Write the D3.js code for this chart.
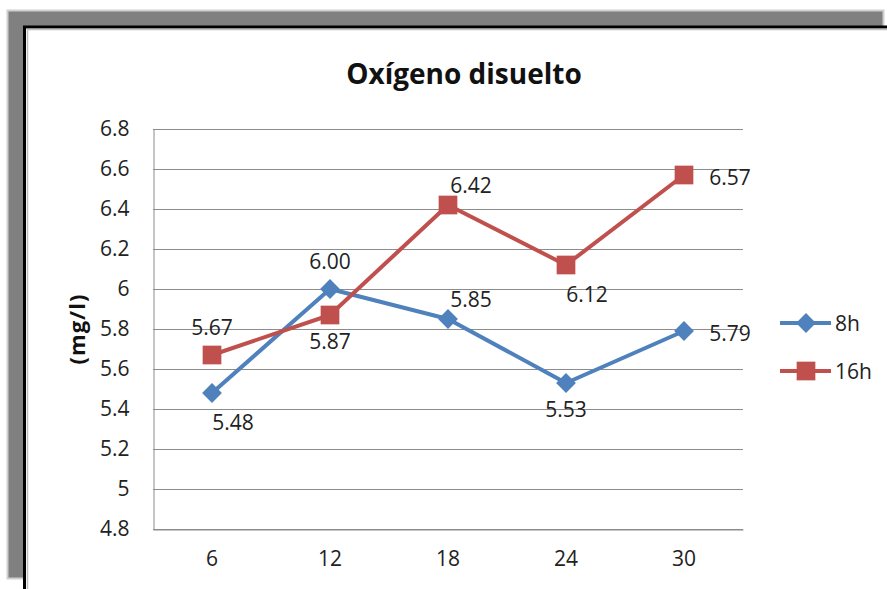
<!DOCTYPE html>
<html>
<head>
<meta charset="utf-8">
<script src="https://cdn.jsdelivr.net/npm/d3@7"></script>
<style>
  html, body { margin: 0; padding: 0; background: #fff; }
  svg { display: block; font-family: "Open Sans", sans-serif; }
</style>
</head>
<body>
<div id="chart"></div>
<script>
// data
const hours = ["6", "12", "18", "24", "30"];
const series8h = [5.48, 6.00, 5.85, 5.53, 5.79];
const series16h = [5.67, 5.87, 6.42, 6.12, 6.57];
const yTicks = [4.8, 5, 5.2, 5.4, 5.6, 5.8, 6, 6.2, 6.4, 6.6, 6.8];
const seriesNames = ["8h", "16h"];
// where each data label sits relative to its point
const labelSide8h = ["belowRight", "above", "aboveRight", "below", "right"];
const labelSide16h = ["above", "below", "aboveRight", "belowRight", "right"];

const width = 887, height = 589;
const blue = "#4f81bd", red = "#c0504d";

const svg = d3.select("#chart").append("svg")
    .attr("width", width)
    .attr("height", height);

// window frame around the chart
svg.append("rect")
    .attr("x", 7.5).attr("y", 10.5)
    .attr("width", 876).attr("height", 568)
    .attr("fill", "#808080")
    .attr("stroke", "#cfcfcf")
    .attr("stroke-width", 2);
svg.append("rect")
    .attr("x", 24.5).attr("y", 27)
    .attr("width", 900).attr("height", 600)
    .attr("fill", "#fff")
    .attr("stroke", "#000")
    .attr("stroke-width", 3);
svg.append("path")
    .attr("d", "M27.5,600V29.5H900")
    .attr("fill", "none")
    .attr("stroke", "#c0c0c0")
    .attr("stroke-width", 1.5);

const plot = { left: 153, right: 743, top: 129, bottom: 529 };

const x = d3.scaleBand()
    .domain(hours)
    .range([plot.left, plot.right]);

const y = d3.scaleLinear()
    .domain([4.8, 6.8])
    .range([plot.bottom, plot.top]);

const cx = d => x(d) + x.bandwidth() / 2;

// gridlines
svg.append("g")
    .selectAll("line")
    .data(yTicks)
    .join("line")
    .attr("x1", plot.left).attr("x2", plot.right)
    .attr("y1", d => Math.round(y(d)) + 0.5)
    .attr("y2", d => Math.round(y(d)) + 0.5)
    .attr("stroke", "#8c8c8c")
    .attr("stroke-width", 1);

// y axis
const yAxis = svg.append("g")
    .attr("transform", `translate(${plot.left + 0.5},0)`)
    .call(d3.axisLeft(y).tickValues(yTicks).tickSize(0).tickPadding(24)
        .tickFormat(d3.format("")));
yAxis.select(".domain").attr("stroke", "#8c8c8c");
yAxis.selectAll("text")
    .attr("font-size", 21)
    .attr("font-family", "Open Sans, sans-serif")
    .attr("fill", "#222");

// x axis
const xAxis = svg.append("g")
    .attr("transform", `translate(0,${plot.bottom + 0.5})`)
    .call(d3.axisBottom(x).tickSize(0).tickPadding(22));
xAxis.select(".domain").attr("stroke", "#8c8c8c");
xAxis.selectAll("text")
    .attr("font-size", 21)
    .attr("font-family", "Open Sans, sans-serif")
    .attr("fill", "#222");

// title
svg.append("text")
    .attr("x", 464).attr("y", 84)
    .attr("text-anchor", "middle")
    .attr("font-size", 28)
    .attr("font-weight", "bold")
    .attr("fill", "#111")
    .text("Oxígeno disuelto");

// y axis title
svg.append("text")
    .attr("transform", "translate(85,329) rotate(-90)")
    .attr("text-anchor", "middle")
    .attr("font-size", 22)
    .attr("font-weight", "bold")
    .attr("letter-spacing", 1)
    .attr("fill", "#111")
    .text("(mg/l)");

const line = d3.line()
    .x((d, i) => cx(hours[i]))
    .y(d => y(d));

const labelOffset = {
    above: [0, -20],
    below: [0, 34],
    belowRight: [21, 37],
    aboveRight: [23, -12],
    right: [46, 10]
};

const diamond = d3.symbol().type(d3.symbolDiamond2).size(250);
const square = d3.symbol().type(d3.symbolSquare).size(350);

function drawSeries(values, color, sym) {
    const g = svg.append("g");
    g.append("path")
        .datum(values)
        .attr("d", line)
        .attr("fill", "none")
        .attr("stroke", color)
        .attr("stroke-width", 4)
        .attr("stroke-linejoin", "round");
    g.selectAll("path.mark")
        .data(values)
        .join("path")
        .attr("class", "mark")
        .attr("d", sym)
        .attr("transform", (d, i) => `translate(${cx(hours[i])},${y(d)})`)
        .attr("fill", color);
    return g;
}

drawSeries(series8h, blue, diamond);
drawSeries(series16h, red, square);

// data labels
function drawLabels(values, sides) {
    svg.append("g")
        .selectAll("text")
        .data(values)
        .join("text")
        .attr("x", (d, i) => cx(hours[i]) + labelOffset[sides[i]][0])
        .attr("y", (d, i) => y(d) + labelOffset[sides[i]][1])
        .attr("text-anchor", "middle")
        .attr("font-size", 21)
        .attr("fill", "#222")
        .text(d => d3.format(".2f")(d));
}
drawLabels(series8h, labelSide8h);
drawLabels(series16h, labelSide16h);

// legend
const legend = svg.append("g")
    .selectAll("g")
    .data(seriesNames)
    .join("g")
    .attr("transform", (d, i) => `translate(780,${323 + i * 48})`);
legend.append("line")
    .attr("x1", 0).attr("x2", 51)
    .attr("stroke", (d, i) => [blue, red][i])
    .attr("stroke-width", 4);
legend.append("path")
    .attr("d", (d, i) => [diamond, square][i]())
    .attr("transform", "translate(26,0)")
    .attr("fill", (d, i) => [blue, red][i]);
legend.append("text")
    .attr("x", 55).attr("y", 8)
    .attr("font-size", 21)
    .attr("fill", "#222")
    .text(d => d);
</script>
</body>
</html>
